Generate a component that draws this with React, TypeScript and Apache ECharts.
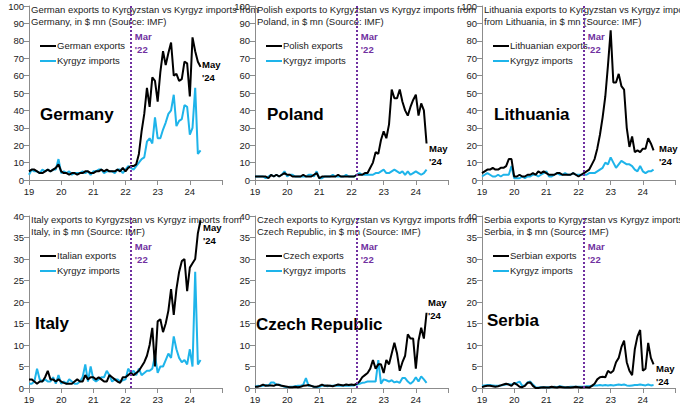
import { useEffect, useRef } from 'react'
import * as echarts from 'echarts'

// monthly, Jan 2019 .. May 2024 (65 points)
const months = Array.from({ length: 65 }, (_, i) => 19 + i / 12)

const germanyExp = [5, 6, 6, 5, 4, 4, 5, 6, 5, 6, 7, 9, 5, 4, 4, 3, 4, 4, 3, 4, 4, 5, 5, 4, 4, 5, 5, 6, 5, 6, 5, 5, 5, 6, 5, 7, 5, 7, 8, 8, 9, 15, 28, 38, 53, 42, 59, 57, 45, 62, 74, 66, 73, 79, 60, 61, 57, 58, 68, 67, 48, 82, 74, 68, 65]
const germanyImp = [3, 6, 5, 5, 4, 6, 5, 6, 5, 6, 6, 12, 4, 5, 4, 5, 3, 4, 4, 4, 5, 4, 5, 3, 5, 5, 6, 6, 4, 5, 5, 5, 4, 6, 6, 4, 6, 8, 7, 6, 8, 10, 12, 13, 22, 24, 21, 36, 24, 24, 29, 33, 38, 40, 49, 31, 34, 35, 43, 42, 26, 30, 53, 15, 17]
const polandExp = [2, 2, 2, 2, 2, 1, 3, 2, 3, 2, 3, 4, 3, 3, 2, 2, 2, 2, 3, 2, 2, 2, 3, 4, 1, 2, 2, 2, 2, 2, 2, 3, 2, 2, 2, 2, 2, 2, 3, 3, 3, 4, 4, 7, 10, 16, 15, 23, 28, 24, 32, 52, 47, 47, 52, 45, 40, 37, 42, 46, 49, 37, 44, 40, 21]
const polandImp = [2, 2, 2, 2, 1, 2, 3, 2, 3, 2, 3, 5, 2, 3, 3, 2, 2, 2, 2, 2, 3, 3, 2, 5, 1, 1, 2, 2, 2, 3, 2, 2, 2, 2, 3, 2, 2, 2, 3, 4, 3, 3, 3, 3, 3, 4, 4, 5, 6, 4, 4, 5, 6, 5, 4, 5, 3, 5, 3, 4, 5, 4, 3, 4, 6]
const lithuaniaExp = [4, 5, 6, 6, 7, 6, 6, 7, 7, 8, 12, 12, 2, 2, 3, 2, 2, 3, 3, 4, 3, 5, 4, 5, 4, 3, 3, 3, 4, 4, 3, 3, 3, 3, 4, 3, 2, 3, 4, 5, 6, 9, 12, 18, 26, 36, 48, 66, 86, 56, 56, 61, 54, 52, 30, 19, 25, 16, 17, 16, 18, 18, 24, 21, 17]
const lithuaniaImp = [2, 3, 4, 3, 2, 2, 3, 2, 3, 3, 3, 8, 1, 1, 1, 2, 1, 2, 2, 3, 3, 2, 3, 4, 5, 2, 2, 3, 4, 3, 3, 4, 3, 3, 4, 3, 3, 3, 3, 3, 4, 4, 4, 5, 6, 7, 10, 9, 13, 10, 7, 9, 11, 10, 9, 9, 8, 6, 5, 8, 5, 4, 5, 5, 6]
const italyExp = [2, 2, 1.5, 1, 1.5, 1.5, 2.5, 4, 2, 2, 1.5, 2, 1.5, 1.2, 1, 1, 1, 1.5, 2, 1.5, 1.5, 3, 2, 2.5, 2.5, 2, 2.5, 2, 1.5, 1.5, 3, 2.5, 2, 1.5, 1.2, 2.5, 2.5, 3, 3.5, 3, 3.5, 4, 5, 6, 7.5, 10, 14, 5, 15.5, 16, 13, 15, 18, 23, 17, 23, 27, 29.5, 30, 22.5, 28, 29, 30, 36, 39]
const italyImp = [1, 1, 1.5, 4.5, 2, 1.5, 2, 1.5, 1.5, 2.5, 1, 3, 1, 1.5, 1, 2, 1.5, 1, 1, 1.5, 2.5, 5.5, 1.5, 5, 2, 1.5, 2, 2.5, 2.5, 4, 3, 1.5, 2, 2, 1.5, 1.8, 2, 4.5, 3.5, 4, 3, 4.5, 3, 3.5, 4, 4, 4.5, 7.5, 3.5, 5, 5, 6.5, 8, 7, 12, 9, 7, 6, 6.5, 5.5, 9, 5, 27, 5.5, 6.5]
const czechExp = [0.3, 0.3, 0.5, 0.8, 0.5, 0.6, 0.6, 0.5, 0.8, 0.7, 0.5, 0.4, 0.3, 0.2, 0.2, 0.3, 0.2, 0.3, 0.5, 0.6, 0.7, 0.5, 0.3, 0.3, 0.5, 0.8, 0.5, 0.6, 0.5, 0.4, 0.6, 0.8, 0.7, 0.6, 0.8, 0.7, 0.8, 0.7, 1, 1.5, 2.5, 3, 3.5, 4.5, 6.5, 4.5, 5.5, 5.5, 3.5, 6.5, 5.5, 8, 10.5, 8, 4, 6, 7.5, 12.5, 11.5, 11.5, 4.5, 11, 14, 11.5, 17.5]
const czechImp = [0.3, 0.5, 0.4, 0.5, 0.7, 0.5, 1.3, 1.3, 0.7, 0.8, 0.5, 0.3, 0.2, 0.3, 0.3, 0.4, 0.5, 0.5, 0.8, 2.3, 0.5, 0.5, 0.3, 0.2, 0.3, 0.5, 0.6, 0.4, 0.5, 0.5, 0.6, 0.5, 0.5, 0.6, 0.5, 0.5, 0.6, 0.6, 0.8, 1, 1.2, 1.3, 1.5, 1.5, 1.5, 1.5, 6.5, 1, 2, 1.8, 1.5, 1.8, 1.3, 1.5, 1.2, 2.3, 2.3, 1.5, 1, 1.5, 2.5, 1.5, 2.7, 2, 1.2]
const serbiaExp = [0.2, 0.4, 0.5, 0.5, 0.4, 0.3, 0.4, 0.6, 0.8, 1, 0.8, 0.5, 1.2, 0.8, 0.3, 0.2, 0.5, 1.2, 1.3, 0.5, 0, 0, 0.1, 0.2, 0.1, 0.1, 0.3, 0.2, 0.1, 0.3, 0.2, 0.1, 0.2, 0.1, 0.2, 0.3, 0.2, 0.1, 0.2, 0.2, 0.1, 0.5, 1, 2, 2.5, 2.6, 2.5, 4, 3.5, 4, 6, 7, 9.5, 11, 6, 4, 3, 9, 12, 13.5, 4, 4.5, 10.5, 7, 5.5]
const serbiaImp = [0.5, 0.6, 0.7, 0.7, 0.6, 0.5, 0.5, 0.6, 0.7, 0.8, 0.9, 0.8, 1, 1.2, 1.5, 0.5, 0.6, 1.3, 1.5, 0.8, 0.2, 0.1, 0.2, 0.2, 0.2, 0.2, 0.2, 0.3, 0.2, 0.4, 0.3, 0.2, 0.2, 0.3, 0.3, 0.3, 0.3, 0.3, 0.3, 0.4, 0.4, 0.5, 0.6, 0.6, 0.7, 0.6, 0.7, 0.6, 0.7, 0.6, 0.7, 0.8, 0.7, 0.8, 0.6, 0.5, 0.6, 0.7, 0.7, 0.8, 0.7, 0.6, 0.8, 0.6, 0.7]

const panels = [
  { country: 'Germany', adj: 'German', title: ['German exports to Kyrgyzstan vs Kyrgyz imports from', 'Germany, in $ mn (Source: IMF)'], exp: germanyExp, imp: germanyImp, max: 100, step: 10, left: 29, top: 6, nameX: 40, nameY: 117, mayX: 202, mayY: 64 },
  { country: 'Poland', adj: 'Polish', title: ['Polish exports to Kyrgyzstan vs Kyrgyz imports from', 'Poland, in $ mn (Source: IMF)'], exp: polandExp, imp: polandImp, max: 100, step: 10, left: 255, top: 6, nameX: 267, nameY: 117, mayX: 429, mayY: 148 },
  { country: 'Lithuania', adj: 'Lithuanian', title: ['Lithuania exports to Kyrgyzstan vs Kyrgyz imports', 'from Lithuania, in $ mn (Source: IMF)'], exp: lithuaniaExp, imp: lithuaniaImp, max: 100, step: 10, left: 482, top: 6, nameX: 494, nameY: 117, mayX: 659, mayY: 148 },
  { country: 'Italy', adj: 'Italian', title: ['Italy exports to Kyrgyzstan vs Kyrgyz imports from', 'Italy, in $ mn (Source: IMF)'], exp: italyExp, imp: italyImp, max: 40, step: 5, left: 29, top: 216, nameX: 35, nameY: 326, mayX: 203, mayY: 227 },
  { country: 'Czech Republic', adj: 'Czech', title: ['Czech exports to Kyrgyzstan vs Kyrgyz imports from', 'Czech Republic, in $ mn (Source: IMF)'], exp: czechExp, imp: czechImp, max: 40, step: 5, left: 255, top: 216, nameX: 256, nameY: 327, mayX: 428, mayY: 302 },
  { country: 'Serbia', adj: 'Serbian', title: ['Serbia exports to Kyrgyzstan vs Kyrgyz imports from', 'Serbia, in $ mn (Source: IMF)'], exp: serbiaExp, imp: serbiaImp, max: 40, step: 5, left: 482, top: 216, nameX: 487, nameY: 323, mayX: 656, mayY: 368 },
]

const BLACK = '#000000'
const BLUE = '#1eb4ea'
const PURPLE = '#7030a0'
const W = 193
const H = 174
const FONT = 'Liberation Sans Narrow, Liberation Sans, Arial'

export default function App() {
  const main = useRef(null)
  useEffect(() => {
    const grid: any[] = []
    const xAxis: any[] = []
    const yAxis: any[] = []
    const series: any[] = []
    const graphic: any[] = []
    const axisLine = { lineStyle: { color: '#8c8c8c' } }
    panels.forEach((p, i) => {
      grid.push({ left: p.left, top: p.top, width: W, height: H })
      xAxis.push({
        type: 'value', gridIndex: i, min: 19, max: 25, interval: 1,
        axisLine: { ...axisLine, onZero: false }, axisTick: { show: true, lineStyle: { color: '#8c8c8c' } },
        splitLine: { show: false },
        axisLabel: { fontSize: 9.5, color: '#222', margin: 6, formatter: (v: number) => (v === 25 ? '' : String(v)) },
      })
      yAxis.push({
        type: 'value', gridIndex: i, min: 0, max: p.max, interval: p.step,
        axisLine: { show: true, ...axisLine }, axisTick: { show: true, lineStyle: { color: '#8c8c8c' } },
        splitLine: { show: false },
        axisLabel: { fontSize: 9.5, color: '#222', margin: 5 },
      })
      series.push({
        type: 'line', xAxisIndex: i, yAxisIndex: i, showSymbol: false,
        data: months.map((m, k) => [m, p.imp[k]]), lineStyle: { color: BLUE, width: 2 }, z: 2,
      })
      series.push({
        type: 'line', xAxisIndex: i, yAxisIndex: i, showSymbol: false,
        data: months.map((m, k) => [m, p.exp[k]]), lineStyle: { color: BLACK, width: 2 }, z: 3,
        markLine: {
          silent: true, symbol: 'none', label: { show: false },
          lineStyle: { color: PURPLE, type: 'dotted', width: 2 },
          data: [{ xAxis: 22 + 2 / 12 }],
        },
      })
      const lineX = p.left + (22 + 2 / 12 - 19) / 6 * W
      const txt = { fontSize: 9.5, fill: '#222', fontFamily: FONT }
      graphic.push(
        { type: 'text', left: p.left + 2, top: p.top - 2, style: { text: p.title[0], ...txt } },
        { type: 'text', left: p.left + 2, top: p.top + 10, style: { text: p.title[1], ...txt } },
        { type: 'line', shape: { x1: p.left + 11, y1: p.top + 40, x2: p.left + 27, y2: p.top + 40 }, style: { stroke: BLACK, lineWidth: 2 } },
        { type: 'text', left: p.left + 28, top: p.top + 34, style: { text: `${p.adj} exports`, ...txt } },
        { type: 'line', shape: { x1: p.left + 11, y1: p.top + 55, x2: p.left + 27, y2: p.top + 55 }, style: { stroke: BLUE, lineWidth: 2 } },
        { type: 'text', left: p.left + 28, top: p.top + 49, style: { text: 'Kyrgyz imports', ...txt } },
        { type: 'text', left: lineX + 4, top: p.top + 24, style: { text: "Mar\n'22", fontSize: 9.5, fontWeight: 'bold', fill: PURPLE, lineHeight: 13, fontFamily: 'Liberation Sans, Arial' } },
        { type: 'text', left: p.nameX, top: p.nameY - 11, style: { text: p.country, fontSize: 17, fontWeight: 'bold', fill: '#000', fontFamily: 'Liberation Sans, Arial' } },
        { type: 'text', left: p.mayX, top: p.mayY - 6, style: { text: "May\n'24", fontSize: 9.5, fontWeight: 'bold', fill: '#000', lineHeight: 13, fontFamily: 'Liberation Sans, Arial' } },
      )
    })
    const option = {
      animation: false,
      backgroundColor: '#fff',
      textStyle: { fontFamily: 'Liberation Sans, Arial' },
      grid, xAxis, yAxis, series, graphic,
    }
    const myCharts = echarts.init(main.current, null, { renderer: 'svg' })
    myCharts.setOption(option)
    return () => {
      myCharts.dispose()
    }
  }, [])
  return <div ref={main} style={{ position: 'fixed', left: 0, top: 0, width: '680px', height: '404px' }}></div>
}
